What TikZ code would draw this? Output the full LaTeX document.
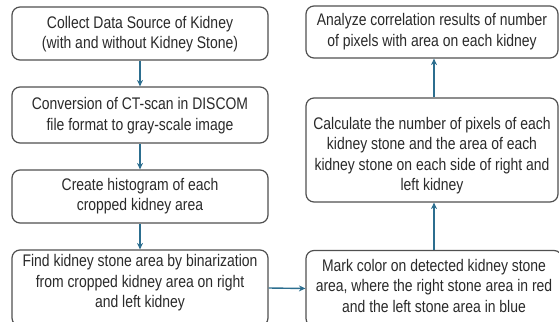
\documentclass[tikz,border=0pt]{standalone}
\usepackage{fontspec}
\setmainfont{Liberation Sans}[FakeStretch=0.83]
\usetikzlibrary{arrows.meta}
\definecolor{boxline}{HTML}{505050}
\definecolor{txt}{HTML}{2A2A2A}
\definecolor{arr}{HTML}{2C6E8F}
\newcommand{\tx}[2]{\raisebox{#1}[\height][\depth]{\begin{tabular}{@{}c@{}}#2\end{tabular}}}
\tikzset{
  box/.style={draw=boxline, line width=1.2pt, rounded corners=8pt, fill=white,
    text=txt, inner sep=0pt, font=\fontsize{16.8}{20.5}\selectfont},
  flow/.style={draw=arr, line width=1.4pt, -{Stealth[length=6.5pt,width=6pt]}}
}
\begin{document}
\begin{tikzpicture}[x=1pt,y=-1pt]
\useasboundingbox (0,0) rectangle (559,321);
\clip (0,0) rectangle (559,321);
\node[box, minimum width=256, minimum height=53] (b1) at (140,33.5)
  {\tx{-1pt}{Collect Data Source of Kidney\\(with and without Kidney Stone)}};
\node[box, minimum width=256, minimum height=56] (b2) at (140,115)
  {\tx{-1pt}{Conversion of CT-scan in DISCOM\\file format to gray-scale image}};
\node[box, minimum width=256, minimum height=53] (b3) at (140,196.5)
  {\tx{0pt}{Create histogram of each\\cropped kidney area}};
\node[box, minimum width=256, minimum height=76] (b4) at (140,288)
  {\tx{5pt}{Find kidney stone area by binarization\\from cropped kidney area on right\\and left kidney}};
\node[box, minimum width=256, minimum height=76] (b5) at (434,288.5)
  {\tx{1pt}{Mark color on detected kidney stone\\area, where the right stone area in red\\and the left stone area in blue}};
\node[box, minimum width=252, minimum height=104] (b6) at (432,150)
  {\tx{-6pt}{Calculate the number of pixels of each\\kidney stone and the area of each\\kidney stone on each side of right and\\left kidney}};
\node[box, minimum width=252, minimum height=52] (b7) at (432,32)
  {\tx{0pt}{Analyze correlation results of number\\of pixels with area on each kidney}};
\draw[flow] (b1) -- (b2);
\draw[flow] (b2) -- (b3);
\draw[flow] (b3) -- (b4);
\draw[flow] (b4.east) -- (b5.west);
\draw[flow] (b5.north) -- (b6.south -| b5.north);
\draw[flow] (b6.north -| b5.north) -- (b7.south -| b5.north);
\end{tikzpicture}
\end{document}
